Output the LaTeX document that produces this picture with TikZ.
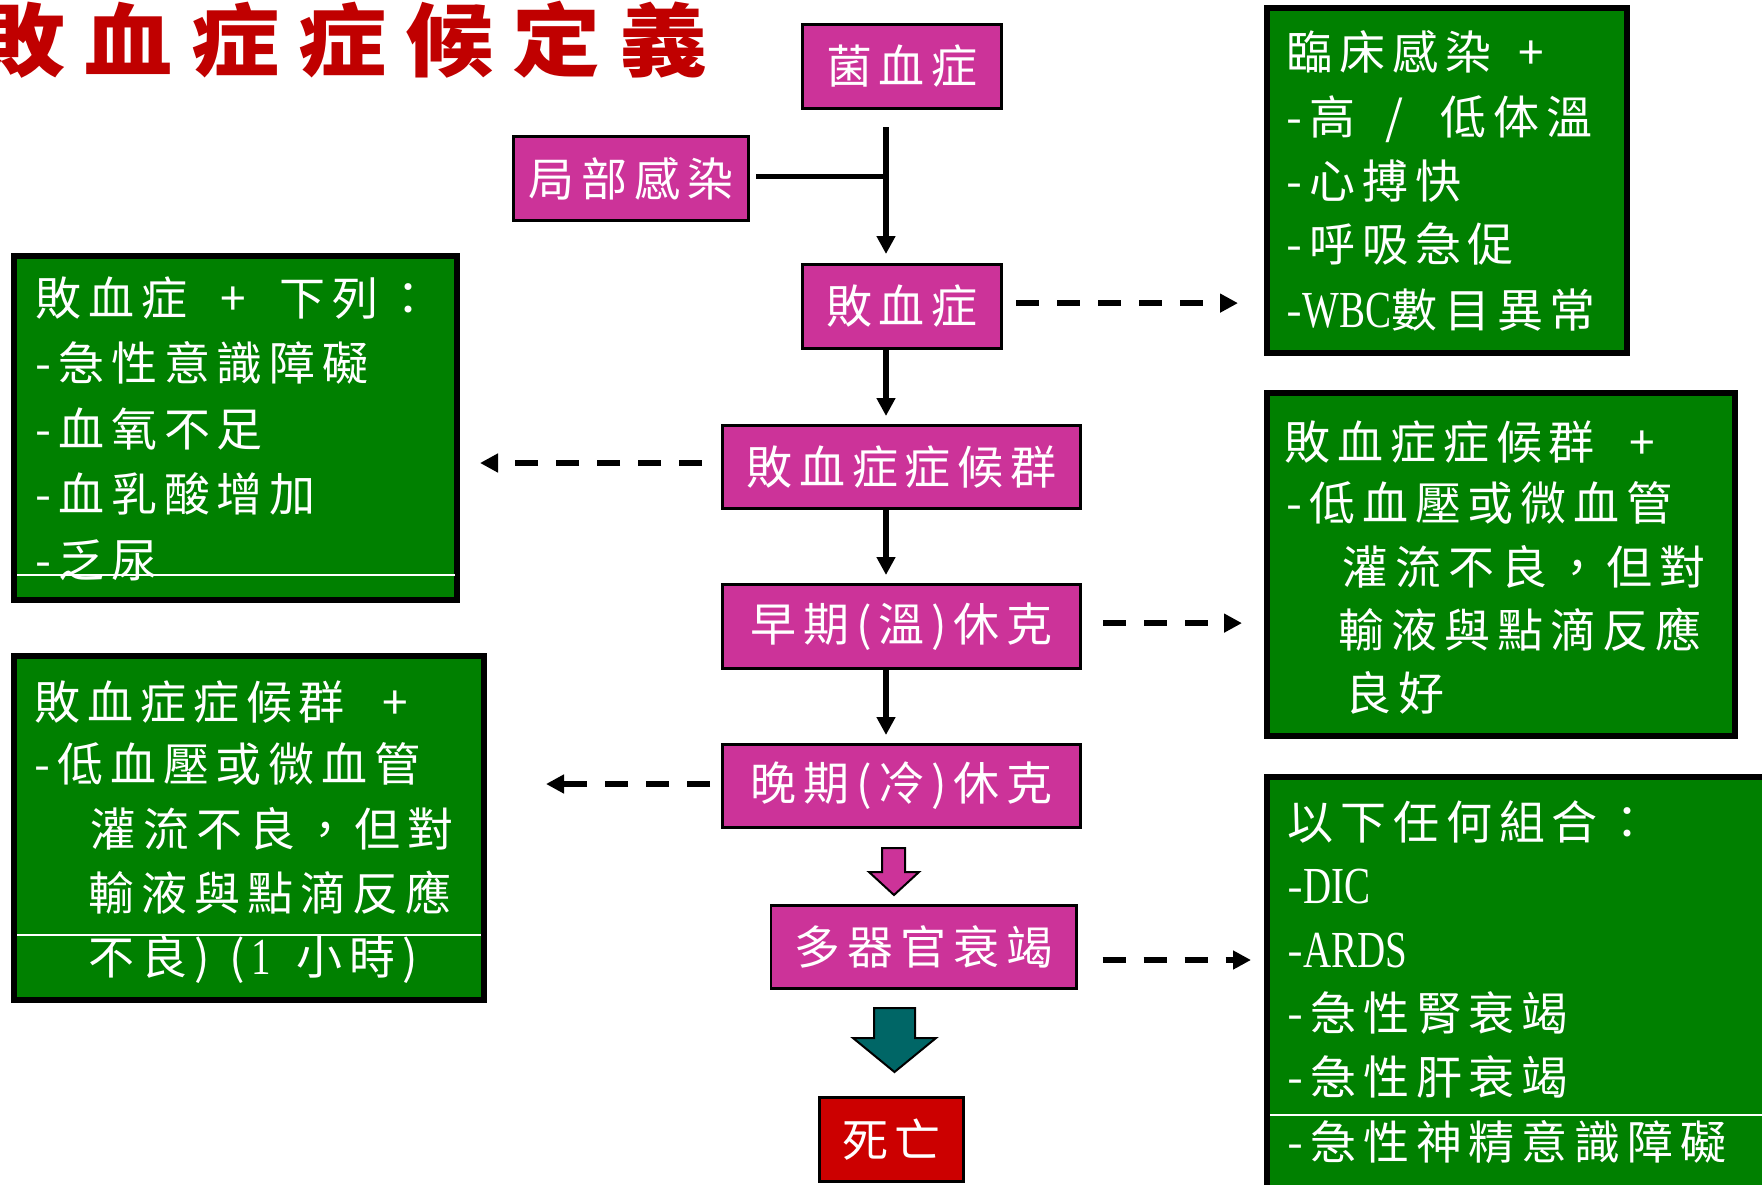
\documentclass[tikz,border=0pt]{standalone}
\usepackage{fontspec}
\setmainfont{Noto Sans CJK TC}[LetterSpace=15]
\newfontfamily\latinfont{Liberation Serif}[FakeStretch=0.75]
\newfontfamily\titlefont{Noto Sans CJK TC}[FakeStretch=1.1]
\usetikzlibrary{arrows.meta}
\definecolor{magbox}{RGB}{204,51,153}
\definecolor{grnbox}{RGB}{0,128,0}
\definecolor{ttlred}{RGB}{192,0,0}
\definecolor{deathred}{RGB}{204,0,0}
\definecolor{tealc}{RGB}{0,102,102}
\newcommand\bodyfont{\fontsize{23pt}{28pt}\selectfont}
\newcommand\latinsize{\latinfont\fontsize{26pt}{28pt}\selectfont}
\newcommand\tsp{\hspace{9.5pt}}
\begin{document}
\begin{tikzpicture}[x=0.5pt,y=-0.5pt,
  mbox/.style={draw=black, line width=1.3pt, fill=magbox, text=white, inner sep=0pt, font=\bodyfont},
  gbox/.style={draw=black, line width=3pt, fill=grnbox, inner sep=0pt},
  gtxt/.style={text=white, inner sep=0pt, anchor=base west, font=\bodyfont},
  ln/.style={line width=2.6pt},
  arr/.style={line width=2.6pt, -{Triangle[length=9pt,width=9pt]}},
  darr/.style={line width=2.8pt, dash pattern=on 11.5pt off 9pt, -{Triangle[length=9pt,width=9pt]}},
  wline/.style={white, line width=0.6pt},
  blk/.style={draw=black, line width=1pt}]
\useasboundingbox (0,0) rectangle (1762,1184);
\clip (0,0) rectangle (1762,1184);
\fill[white] (0,0) rectangle (1762,1184);

% title
\node[anchor=base west, inner sep=0pt, text=ttlred, font=\titlefont\bfseries\fontsize{40pt}{48pt}\selectfont] (title) at (-23,70) {敗\tsp 血\tsp 症\tsp 症\tsp 候\tsp 定\tsp 義};

% flow boxes
\node[mbox, minimum width=99.7pt, minimum height=42.2pt] (bac) at (902,66.5) {菌血症};
\node[mbox, minimum width=117.7pt, minimum height=42.2pt] (loc) at (631,178.5) {局部感染};
\node[mbox, minimum width=99.7pt, minimum height=42.2pt] (sep) at (902,306.5) {敗血症};
\node[mbox, minimum width=179.2pt, minimum height=41.7pt] (sss) at (901.5,467) {敗血症症候群};
\node[mbox, minimum width=179.2pt, minimum height=42.2pt] (early) at (901.5,626.5) {早期(溫)休克};
\node[mbox, minimum width=179.2pt, minimum height=41.7pt] (late) at (901.5,786) {晚期(冷)休克};
\node[mbox, minimum width=152.7pt, minimum height=41.7pt] (mof) at (923.5,947) {多器官衰竭};
\node[mbox, fill=deathred, minimum width=72.2pt, minimum height=42.2pt] (death) at (891.5,1139.5) {死亡};

% green boxes
\node[gbox, minimum width=180pt, minimum height=172.5pt] (g1) at (1447,180.5) {};
\node[gbox, minimum width=221.5pt, minimum height=172pt] (g2) at (235.5,428) {};
\node[gbox, minimum width=234pt, minimum height=171.5pt] (g3) at (1501,564.5) {};
\node[gbox, minimum width=235pt, minimum height=172pt] (g4) at (249,828) {};
\node[gbox, minimum width=265pt, minimum height=220pt] (g5) at (1532,997) {};

% white rules inside green boxes
\draw[wline] (17,575) -- (455,575);
\draw[wline] (17,935) -- (481,935);
\draw[wline] (1270,1115) -- (1762,1115);

% text g1
\node[gtxt] (g1a) at (1286,69) {臨床感染\hspace{13.5pt}+};
\node[gtxt] (g1b) at (1286,134) {-高\hspace{15pt}/\hspace{18.5pt}低体溫};
\node[gtxt] (g1c) at (1286,198) {-心搏快};
\node[gtxt] (g1d) at (1286,261) {-呼吸急促};
\node[gtxt] (g1e) at (1286,327) {-{\latinsize WBC}數目異常};

% text g2
\node[gtxt] (g2a) at (35,315) {敗血症\hspace{16.5pt}+\hspace{17pt}下列：};
\node[gtxt] (g2b) at (35,380) {-急性意識障礙};
\node[gtxt] (g2c) at (35,446) {-血氧不足};
\node[gtxt] (g2d) at (35,511) {-血乳酸增加};
\node[gtxt] (g2e) at (35,577) {-乏尿};

% text g3
\node[gtxt] (g3a) at (1284,459) {敗血症症候群\hspace{17.5pt}+};
\node[gtxt] (g3b) at (1286,520) {-低血壓或微血管};
\node[gtxt] (g3c) at (1342,584) {灌流不良，但對};
\node[gtxt] (g3d) at (1338,647) {輸液與點滴反應};
\node[gtxt] (g3e) at (1345,710) {良好};

% text g4
\node[gtxt] (g4a) at (34,719) {敗血症症候群\hspace{19pt}+};
\node[gtxt] (g4b) at (34,781) {-低血壓或微血管};
\node[gtxt] (g4c) at (90,846) {灌流不良，但對};
\node[gtxt] (g4d) at (88,910) {輸液與點滴反應};
\node[gtxt] (g4e) at (88,974) {不良)\hspace{10pt}(\hspace{3pt}{\latinsize 1}\hspace{13pt}小時)};

% text g5
\node[gtxt] (g5a) at (1287,839) {以下任何組合：};
\node[gtxt] (g5b) at (1287,903) {-{\latinsize DIC}};
\node[gtxt] (g5c) at (1287,967) {-{\latinsize ARDS}};
\node[gtxt] (g5d) at (1287,1030) {-急性腎衰竭};
\node[gtxt] (g5e) at (1287,1094) {-急性肝衰竭};
\node[gtxt] (g5f) at (1287,1159) {-急性神精意識障礙};

% solid connectors
\coordinate (cx) at (886,0);
\draw[arr, shorten <=8.5pt, shorten >=4.5pt] (bac.south -| cx) -- (sep.north -| cx);
\draw[ln, shorten <=3pt] ([yshift=1.2pt]loc.east) -- ([yshift=1.2pt]loc.east -| cx);
\draw[arr, shorten >=4pt] (sep.south -| cx) -- (sss.north -| cx);
\draw[arr, shorten >=4pt] (sss.south -| cx) -- (early.north -| cx);
\draw[arr, shorten >=4pt] (early.south -| cx) -- (late.north -| cx);

% dashed connectors
\draw[darr, shorten <=6.5pt, shorten >=13pt] ([yshift=1.7pt]sep.east) -- ([yshift=1.7pt]sep.east -| g1.west);
\draw[darr, shorten <=9.5pt, shorten >=10pt] ([yshift=2pt]sss.west) -- ([yshift=2pt]sss.west -| g2.east);
\draw[darr, shorten <=10.5pt, shorten >=11pt] ([yshift=1.7pt]early.east) -- ([yshift=1.7pt]early.east -| g3.west);
\draw[darr, shorten <=5.5pt, shorten >=29.5pt] ([yshift=1pt]late.west) -- ([yshift=1pt]late.west -| g4.east);
\draw[darr, shorten <=12.5pt, shorten >=6.5pt] ([yshift=-6.5pt]mof.east) -- ([yshift=-6.5pt]mof.east -| g5.west);

% block arrows
\draw[blk, fill=magbox] (882,848) -- (905,848) -- (905,872) -- (919,872) -- (894,895) -- (869,872) -- (882,872) -- cycle;
\draw[blk, fill=tealc] (874,1008) -- (915,1008) -- (915,1038) -- (936,1038) -- (894.5,1072) -- (853,1038) -- (874,1038) -- cycle;
\end{tikzpicture}
\end{document}
